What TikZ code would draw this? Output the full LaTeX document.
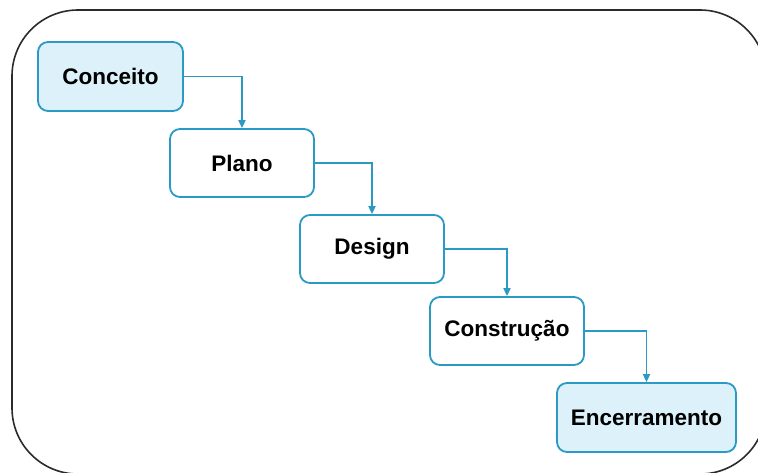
\documentclass[tikz,border=0pt]{standalone}
\usepackage{fontspec}
\setmainfont{Liberation Sans}
\usetikzlibrary{arrows.meta}
\definecolor{stepline}{HTML}{2A9AC4}
\definecolor{stepfill}{HTML}{DDF1FA}
\definecolor{framecol}{HTML}{2B2B2B}
\tikzset{
  stepbox/.style={draw=stepline, line width=1.8pt, rounded corners=10pt,
    fill=white, inner sep=0pt, font=\fontsize{22.5}{26}\selectfont\bfseries},
  stepend/.style={stepbox, fill=stepfill},
  flow/.style={draw=stepline, line width=1.8pt,
    -{Triangle[width=7pt,length=8pt]}}
}
\begin{document}
\begin{tikzpicture}[x=1pt,y=-1pt]
  \useasboundingbox (0,0) rectangle (758,472);
  \fill[white] (0,0) rectangle (758,472);
  % outer frame, partly cut off at the right and bottom
  \begin{scope}
    \clip (0,0) rectangle (758,472);
    \draw[framecol, line width=1.6pt, rounded corners=66pt] (12,10) rectangle (766,474);
  \end{scope}
  % process steps
  \node[stepend, minimum width=145pt, minimum height=69pt] (c) at (110.5,76.5) {Conceito};
  \node[stepbox, minimum width=144pt, minimum height=68pt] (p) at (242,163) {Plano};
  \node[stepbox, minimum width=144pt, minimum height=68pt] (d) at (372,249) {Design};
  \node[stepbox, minimum width=154pt, minimum height=68pt] (k) at (507,331) {Construção};
  \node[stepend, minimum width=179pt, minimum height=69pt] (e) at (646.5,417.5) {Encerramento};
  % connectors
  \draw[flow] (c.east) -| (p.north);
  \draw[flow] (p.east) -| (d.north);
  \draw[flow] (d.east) -| (k.north);
  \draw[flow] (k.east) -| (e.north);
\end{tikzpicture}
\end{document}
